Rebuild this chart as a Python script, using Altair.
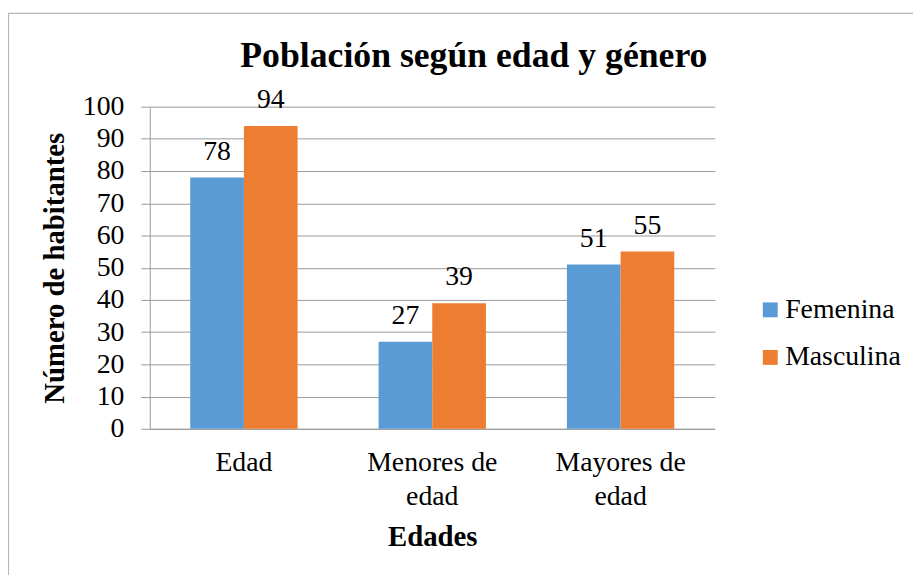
import altair as alt
import pandas as pd

categories = ["Edad", "Menores de edad", "Mayores de edad"]
category_lines = [["Edad"], ["Menores de", "edad"], ["Mayores de", "edad"]]
series = ["Femenina", "Masculina"]
femenina = [78, 27, 51]
masculina = [94, 39, 55]
colors = ["#5B9BD5", "#ED7D31"]
title_text = "Población según edad y género"

rows = []
for c, f, m in zip(categories, femenina, masculina):
    rows.append({"cat": c, "serie": series[0], "valor": f})
    rows.append({"cat": c, "serie": series[1], "valor": m})
df = pd.DataFrame(rows)

label_expr = " : ".join(
    f"datum.value == '{c}' ? {lines!r}" for c, lines in zip(categories, category_lines)
) + " : datum.label"

FONT = "Liberation Serif"
W, H = 570, 325
FS = 28
TFS = 29

x = alt.X("cat:N", sort=categories, title="Edades",
          scale=alt.Scale(paddingInner=0.43, paddingOuter=0.215),
          axis=alt.Axis(labelExpr=label_expr, labelAngle=0, ticks=False,
                        labelPadding=20, labelLineHeight=34, labelFontSize=FS,
                        titleFontSize=TFS, titleFontWeight="bold", titlePadding=13,
                        domainColor="#999999", labelColor="black", titleColor="black",
                        labelFont=FONT, titleFont=FONT, grid=False))
y = alt.Y("valor:Q", title="Número de habitantes",
          scale=alt.Scale(domain=[0, 100]),
          axis=alt.Axis(values=list(range(0, 101, 10)), tickSize=9, labelPadding=17,
                        tickColor="#999999", domainColor="#999999", gridColor="#999999",
                        labelFontSize=FS, titleFontSize=TFS, titleFontWeight="bold",
                        titlePadding=13, labelColor="black", titleColor="black",
                        labelFont=FONT, titleFont=FONT))
xo = alt.XOffset("serie:N", sort=series)
color = alt.Color("serie:N", sort=series, title=None,
                  scale=alt.Scale(domain=series, range=colors),
                  legend=alt.Legend(orient="none", legendX=612, legendY=191,
                                    symbolType="square", symbolSize=225,
                                    symbolStrokeWidth=0, labelFontSize=FS,
                                    labelFont=FONT, labelColor="black",
                                    rowPadding=20, padding=0, labelOffset=1))

one = pd.DataFrame({"k": [0]})
border = alt.Chart(one).mark_rect(
    fill=None, stroke="#b8b8b8", strokeWidth=1.2
).encode(x=alt.value(-142.5), x2=alt.value(790), y=alt.value(-94), y2=alt.value(500))

title = alt.Chart(one).mark_text(
    text=title_text, font=FONT, fontSize=36, fontWeight="bold", color="black",
    baseline="alphabetic", align="center"
).encode(x=alt.value(327), y=alt.value(-40))

bars = alt.Chart(df).mark_bar().encode(x=x, xOffset=xo, y=y, color=color)
labels = alt.Chart(df).mark_text(
    baseline="alphabetic", dy=-18, fontSize=FS, font=FONT, color="black"
).encode(x=x, xOffset=xo, y=y, text="valor:Q")

chart = alt.layer(border, title, bars, labels).properties(
    width=W, height=H,
    autosize="none",
    padding={"left": 143, "top": 97, "right": 200, "bottom": 145},
).configure_view(stroke=None).configure_axis(gridWidth=1)

chart.save("out.html", embed_options={"renderer": "svg", "actions": False})
